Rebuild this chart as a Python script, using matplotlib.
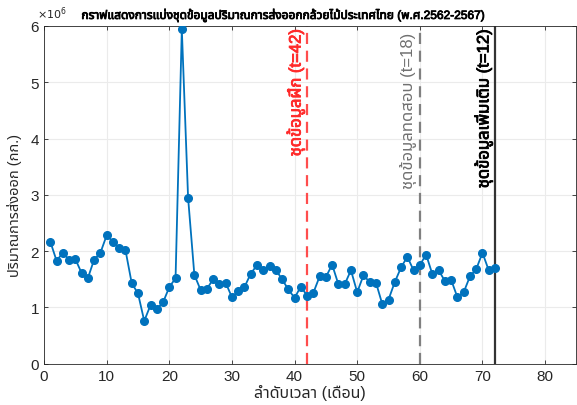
import matplotlib
matplotlib.use("Agg")
import matplotlib.pyplot as plt
import matplotlib.patheffects as pe
from matplotlib import font_manager
from matplotlib.ft2font import FT2Font
import numpy as np

# monthly orchid export volume (kg), months 1..72
months = np.arange(1, 73)
export_kg = np.array([
    2.17, 1.83, 1.97, 1.85, 1.86, 1.61, 1.52, 1.85, 1.97, 2.28,
    2.17, 2.06, 2.02, 1.43, 1.25, 0.76, 1.04, 0.97, 1.09, 1.36,
    1.52, 5.94, 2.95, 1.58, 1.31, 1.33, 1.50, 1.42, 1.44, 1.18,
    1.29, 1.36, 1.60, 1.75, 1.66, 1.74, 1.67, 1.50, 1.32, 1.17,
    1.37, 1.21, 1.26, 1.55, 1.54, 1.76, 1.41, 1.41, 1.66, 1.27,
    1.57, 1.45, 1.44, 1.06, 1.14, 1.45, 1.71, 1.90, 1.66, 1.75,
    1.94, 1.59, 1.66, 1.47, 1.49, 1.18, 1.27, 1.55, 1.68, 1.97,
    1.66, 1.70,
]) * 1e6

split_at = [42, 60, 72]
split_labels = ["ชุดข้อมูลฝึก (t=42)", "ชุดข้อมูลทดสอบ (t=18)", "ชุดข้อมูลเพิ่มเติม (t=12)"]
title = "กราฟแสดงการแบ่งชุดข้อมูลปริมาณการส่งออกกล้วยไม้ประเทศไทย (พ.ศ.2562-2567)"
xlabel = "ลำดับเวลา (เดือน)"
ylabel = "ปริมาณการส่งออก (กก.)"


def find_thai_family():
    """first installed family that actually has Thai glyphs."""
    found = []
    for fe in font_manager.fontManager.ttflist:
        try:
            f = FT2Font(fe.fname)
            if f.get_char_index(ord("ก")):
                found.append(fe.name)
        except Exception:
            pass
    for pref in ["Noto Sans Thai", "Noto Sans Thai UI", "Tlwg Typo", "Loma",
                 "Garuda", "Sarabun", "Kinnari", "Norasi"]:
        if pref in found:
            return pref
    return found[0] if found else None


thai = find_thai_family()
fams = ["Liberation Sans"] + ([thai] if thai else []) + ["DejaVu Sans"]
plt.rcParams["font.family"] = fams

BLUE = "#0072BD"
TXT = "#262626"


def fake_bold(color, w=0.7):
    # thai font has no bold face, thicken strokes instead
    return [pe.withStroke(linewidth=w, foreground=color)]


fig = plt.figure(figsize=(5.77, 4.06), dpi=100)
ax = fig.add_axes([0.0763, 0.1017, 0.9227, 0.8318])

ax.plot(months, export_kg, "-o", color=BLUE, lw=1.3, ms=5.5, zorder=3)

ax.axvline(split_at[0], color="#ff4d4d", ls=(0, (5, 3)), lw=1.6, zorder=2)
ax.axvline(split_at[1], color="#808080", ls=(0, (5, 3)), lw=1.6, zorder=2)
ax.axvline(split_at[2], color="#333333", ls="-", lw=1.6, zorder=2)

ax.text(split_at[0] - 0.4, 5.95e6, split_labels[0], rotation=90, ha="right", va="top",
        color="#ff2a2a", fontsize=12, path_effects=fake_bold("#ff2a2a", 0.6))
ax.text(split_at[1] - 0.4, 5.90e6, split_labels[1], rotation=90, ha="right", va="top",
        color="#707070", fontsize=12)
ax.text(split_at[2] - 0.4, 5.95e6, split_labels[2], rotation=90, ha="right", va="top",
        color="black", fontsize=12, path_effects=fake_bold("black", 0.6))

ax.set_xlim(0, 85)
ax.set_ylim(0, 6e6)
ax.set_xticks(np.arange(0, 81, 10))
ax.set_yticks(np.arange(0, 7) * 1e6)
ax.set_yticklabels([str(i) for i in range(7)])
ax.grid(True, color="#ebebeb", lw=0.8)
ax.set_axisbelow(True)
ax.tick_params(direction="in", top=True, right=True, labelsize=11, colors=TXT,
               length=3, width=0.6)
for s in ax.spines.values():
    s.set_color(TXT)
    s.set_linewidth(0.6)

ax.set_xlabel(xlabel, fontsize=11.5, color=TXT, labelpad=1)
ax.set_ylabel(ylabel, fontsize=10.5, color=TXT)
ax.yaxis.set_label_coords(-0.041, 0.47)
ax.text(-0.014, 1.015, r"$\times10^{6}$", transform=ax.transAxes, fontsize=8,
        color=TXT, ha="left", va="bottom", family="DejaVu Sans")
ax.text(0.448, 1.012, title, transform=ax.transAxes, fontsize=8.6,
        color="black", ha="center", va="bottom", path_effects=fake_bold("black", 0.6))

fig.savefig("out.png", dpi=100)
